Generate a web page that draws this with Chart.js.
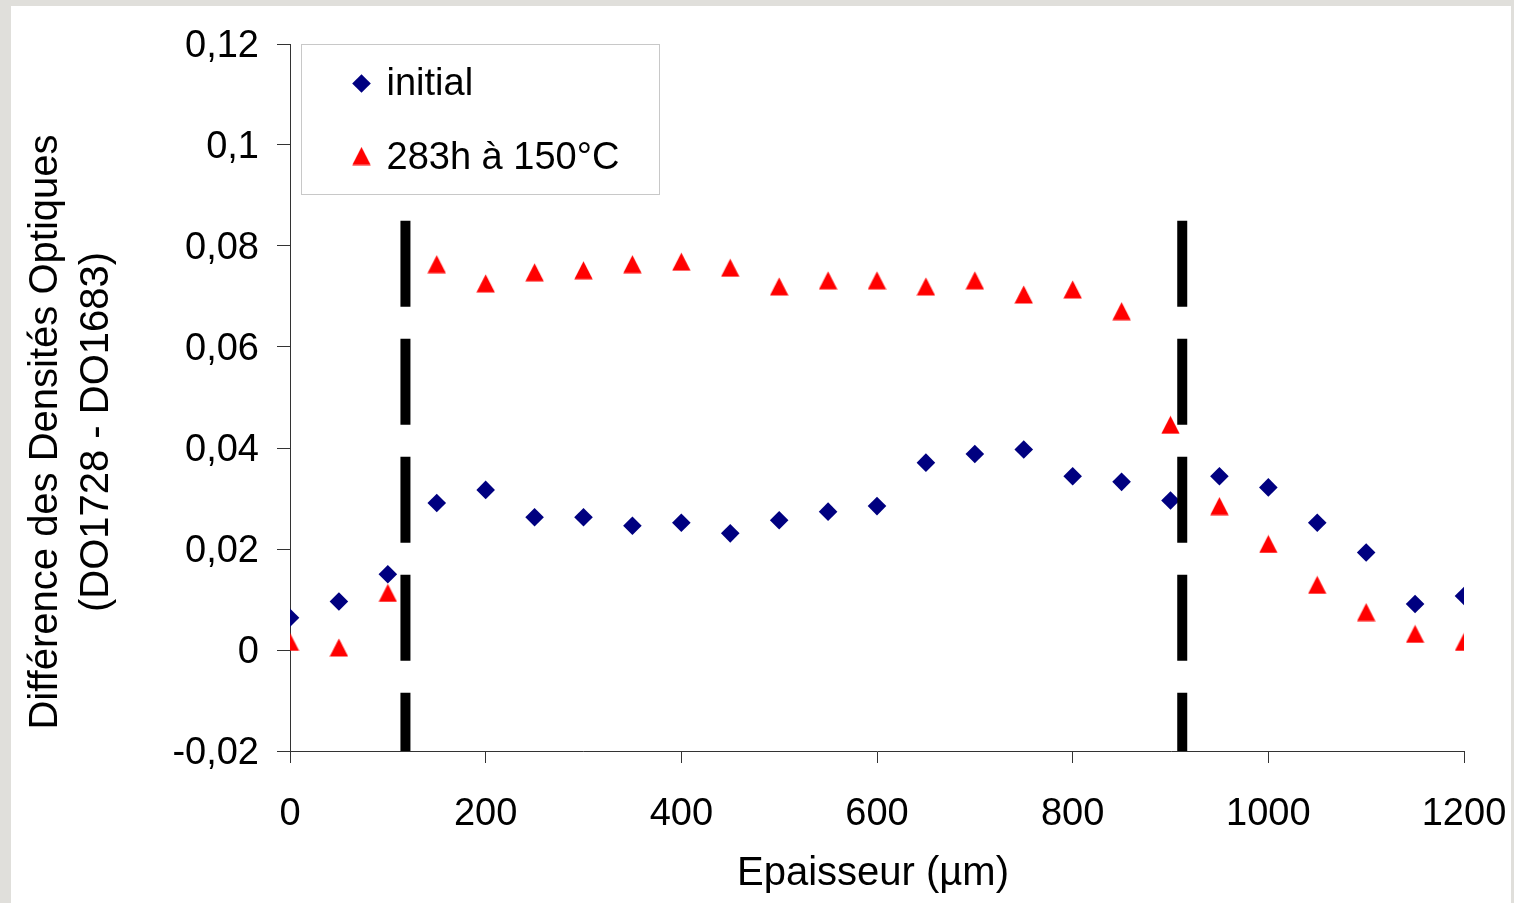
<!DOCTYPE html>
<html>
<head>
<meta charset="utf-8">
<script src="https://cdn.jsdelivr.net/npm/chart.js@4.4.0/dist/chart.umd.min.js"></script>
<style>
  html, body { margin: 0; padding: 0; background: #e0dfdb; }
  #wrap { position: absolute; left: 11px; top: 6px; width: 1500px; height: 897px; background: #fff; }
</style>
</head>
<body>
<div id="wrap"><canvas id="chartCanvas" width="1500" height="897"></canvas></div>
<script>
// Thickness positions (µm)
const thickness = [0, 50, 100, 150, 200, 250, 300, 350, 400, 450, 500, 550, 600,
  650, 700, 750, 800, 850, 900, 950, 1000, 1050, 1100, 1150, 1200];

// Optical density difference, initial state
const initialValues = [0.0064, 0.0096, 0.0150, 0.0291, 0.0317, 0.0263, 0.0263, 0.0246, 0.0252,
  0.0231, 0.0257, 0.0274, 0.0285, 0.0371, 0.0388, 0.0397, 0.0344, 0.0333, 0.0296,
  0.0344, 0.0322, 0.0252, 0.0193, 0.0091, 0.0107];

// Optical density difference after 283h at 150°C
const agedValues = [0.0016, 0.0005, 0.0113, 0.0764, 0.0726, 0.0748, 0.0752, 0.0764, 0.0769,
  0.0757, 0.0720, 0.0732, 0.0732, 0.0720, 0.0732, 0.0704, 0.0714, 0.0671, 0.0446,
  0.0285, 0.0210, 0.0129, 0.0075, 0.0032, 0.0016];

// Dashed boundary markers (x position, top and bottom value)
const boundaryX = [118, 912];
const boundaryY = [0.085, -0.02];

// Axis ticks
const xTicks = [0, 200, 400, 600, 800, 1000, 1200];
const yTicks = [-0.02, 0, 0.02, 0.04, 0.06, 0.08, 0.1, 0.12];

const seriesLabels = ['initial', '283h à 150°C'];
const xTitle = 'Epaisseur (µm)';
const yTitle = ['Différence des Densités Optiques', '(DO1728 - DO1683)'];

const FONT = '"Liberation Sans", Arial, sans-serif';
const NAVY = '#000080';
const RED = '#ff0000';

// Triangle marker drawn centred on its bounding box
function makeTriangle(size, color) {
  const c = document.createElement('canvas');
  c.width = size; c.height = size;
  const g = c.getContext('2d');
  g.fillStyle = color;
  g.beginPath();
  g.moveTo(size / 2, 0.5);
  g.lineTo(size - 0.3, size - 0.5);
  g.lineTo(0.3, size - 0.5);
  g.closePath();
  g.fill();
  return c;
}
const triangle = makeTriangle(19, RED);

function points(ys) {
  return thickness.map((x, i) => ({ x: x, y: ys[i] }));
}

const boundarySets = boundaryX.map(bx => ({
  label: 'boundary',
  data: boundaryY.map(y => ({ x: bx, y: y })),
  showLine: true,
  borderColor: '#000',
  borderWidth: 10,
  borderDash: [86, 32],
  borderCapStyle: 'butt',
  pointRadius: 0,
  order: 0
}));

// Legend box inside the plot and the axis titles
const decorations = {
  id: 'decorations',
  afterDraw(chart) {
    const ctx = chart.ctx;
    const a = chart.chartArea;
    ctx.save();

    // legend
    const lx = a.left + 11.5, ly = a.top + 0.5;
    ctx.strokeStyle = '#c8c8c8';
    ctx.lineWidth = 1;
    ctx.fillStyle = '#fff';
    ctx.fillRect(lx, ly, 358, 150);
    ctx.strokeRect(lx, ly, 358, 150);

    ctx.fillStyle = NAVY;
    ctx.beginPath();
    const dx = a.left + 71.5, dy = a.top + 39.5, r = 9.3;
    ctx.moveTo(dx - r, dy); ctx.lineTo(dx, dy - r); ctx.lineTo(dx + r, dy); ctx.lineTo(dx, dy + r);
    ctx.closePath();
    ctx.fill();
    ctx.drawImage(triangle, dx - 9.5, a.top + 112 - 9.5);

    ctx.fillStyle = '#000';
    ctx.font = '38px ' + FONT;
    ctx.textAlign = 'left';
    ctx.textBaseline = 'alphabetic';
    ctx.fillText(seriesLabels[0], a.left + 96.5, a.top + 51);
    ctx.fillText(seriesLabels[1], a.left + 96.5, a.top + 125);

    // y title
    ctx.font = '40px ' + FONT;
    ctx.textAlign = 'center';
    ctx.textBaseline = 'middle';
    ctx.translate(35, 426);
    ctx.rotate(-Math.PI / 2);
    ctx.fillText(yTitle[0], 0, 0);
    ctx.fillText(yTitle[1], 0, 51);
    ctx.restore();

    // x title
    ctx.save();
    ctx.fillStyle = '#000';
    ctx.font = '40px ' + FONT;
    ctx.textAlign = 'center';
    ctx.textBaseline = 'alphabetic';
    ctx.fillText(xTitle, (a.left + a.right) / 2 - 4, 879);
    ctx.restore();
  }
};

new Chart(document.getElementById('chartCanvas'), {
  type: 'scatter',
  data: {
    datasets: [
      {
        label: seriesLabels[0],
        data: points(initialValues),
        pointStyle: 'rectRot',
        pointRadius: 9.3,
        pointHoverRadius: 9.3,
        pointBackgroundColor: NAVY,
        pointBorderWidth: 0,
        order: 2
      },
      {
        label: seriesLabels[1],
        data: points(agedValues),
        pointStyle: triangle,
        pointRadius: 10,
        pointBackgroundColor: RED,
        pointBorderWidth: 0,
        order: 1
      },
      ...boundarySets
    ]
  },
  options: {
    responsive: false,
    animation: false,
    layout: { padding: { top: 38, right: 47, left: 0, bottom: 0 } },
    plugins: {
      legend: { display: false },
      tooltip: { enabled: false }
    },
    scales: {
      x: {
        type: 'linear',
        min: 0,
        max: 1200,
        afterFit: s => { s.height = 152; s.paddingLeft = 0; s.paddingRight = 0; },
        afterBuildTicks: s => { s.ticks = xTicks.map(v => ({ value: v })); },
        grid: { display: true, drawOnChartArea: false, drawTicks: true, tickLength: 12, color: '#333' },
        border: { display: true, color: '#333', width: 1 },
        ticks: {
          color: '#000',
          font: { family: FONT, size: 38 },
          padding: 29,
          maxRotation: 0,
          autoSkip: false,
          callback: v => String(v)
        }
      },
      y: {
        type: 'linear',
        min: -0.02,
        max: 0.12,
        afterFit: s => { s.width = 279; s.paddingTop = 0; s.paddingBottom = 0; },
        afterBuildTicks: s => { s.ticks = yTicks.map(v => ({ value: v })); },
        grid: { display: true, drawOnChartArea: false, drawTicks: true, tickLength: 13, color: '#333' },
        border: { display: true, color: '#333', width: 1 },
        ticks: {
          color: '#000',
          font: { family: FONT, size: 38 },
          padding: 18,
          labelOffset: 3,
          callback: v => String(Math.round(v * 100) / 100).replace('.', ',')
        }
      }
    }
  },
  plugins: [decorations]
});
</script>
</body>
</html>
